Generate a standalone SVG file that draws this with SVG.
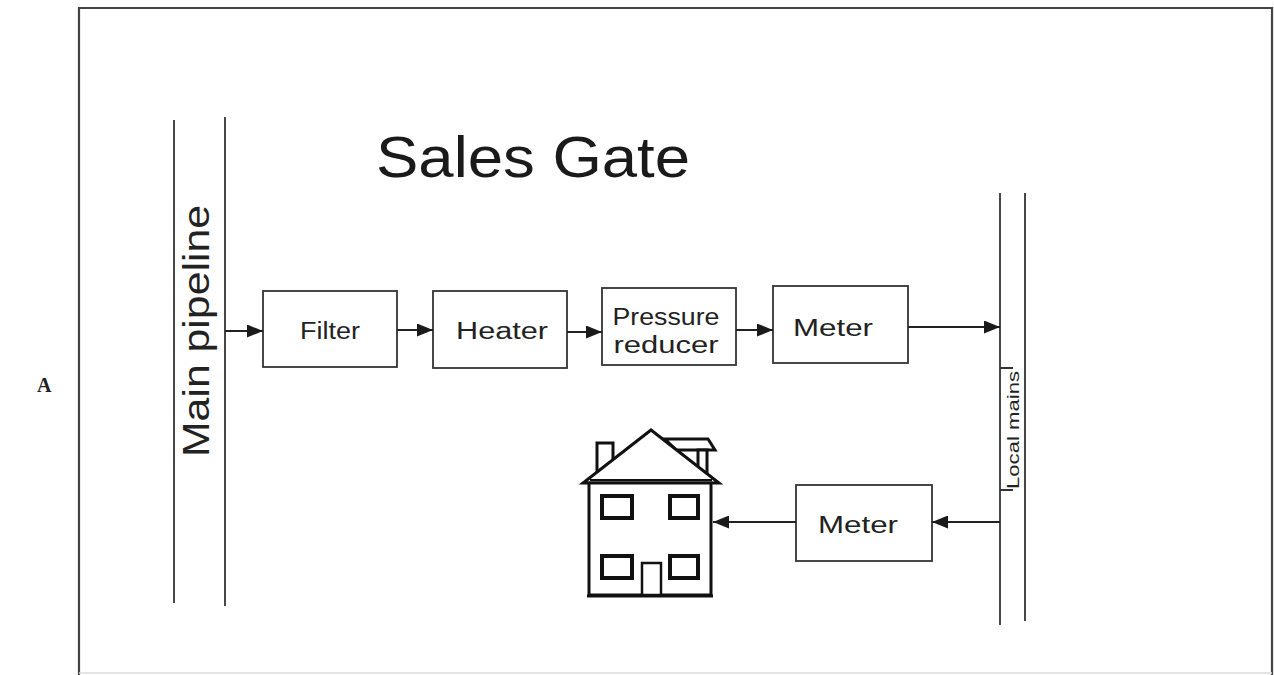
<svg xmlns="http://www.w3.org/2000/svg" width="1274" height="675" viewBox="0 0 1274 675">
  <defs>
    <marker id="arrow" viewBox="0 0 16 13" refX="16" refY="6.5" markerWidth="16" markerHeight="13" markerUnits="userSpaceOnUse" orient="auto">
      <path d="M0,0 L16,6.5 L0,13 Z" fill="#1a1a1a"/>
    </marker>
    <style>
      .frame { fill: none; stroke: #444; stroke-width: 2.2; }
      .pipe { stroke: #333; stroke-width: 1.8; fill: none; }
      .box { fill: #fff; stroke: #333; stroke-width: 1.8; }
      .link { stroke: #222; stroke-width: 1.8; fill: none; marker-end: url(#arrow); }
      .lbl { font-family: "Liberation Sans", Arial, sans-serif; font-size: 23px; fill: #222; text-anchor: middle; }
      .title { font-family: "Liberation Sans", Arial, sans-serif; font-size: 58px; fill: #1a1a1a; }
      .house { fill: #fff; stroke: #111; stroke-width: 3; stroke-linejoin: miter; }
      .win { fill: #fff; stroke: #111; stroke-width: 4; }
    </style>
  </defs>
  <rect width="1274" height="675" fill="#fff"/>

  <!-- outer frame -->
  <path class="frame" d="M79,675 L79,8 L1272,8 L1272,675"/>
  <line x1="79" y1="673" x2="1272" y2="673" stroke="#ddd" stroke-width="1.5"/>

  <text x="37" y="392" font-family="Liberation Serif, serif" font-weight="bold" font-size="20" fill="#222">A</text>

  <text class="title" x="376" y="177" textLength="314" lengthAdjust="spacingAndGlyphs">Sales Gate</text>

  <!-- main pipeline -->
  <g id="main-pipeline">
    <line class="pipe" x1="174" y1="120" x2="174" y2="603"/>
    <line class="pipe" x1="225" y1="117" x2="225" y2="606"/>
    <text transform="translate(209,457) rotate(-90)" font-family="Liberation Sans, Arial, sans-serif" font-size="36" fill="#222" textLength="252" lengthAdjust="spacingAndGlyphs">Main pipeline</text>
  </g>

  <!-- local mains -->
  <g id="local-mains">
    <line class="pipe" x1="1000" y1="193" x2="1000" y2="625"/>
    <line class="pipe" x1="1025" y1="193" x2="1025" y2="621"/>
    <path class="pipe" d="M1000,368 H1013 M1000,490 H1013" stroke-width="1.2"/>
    <text transform="translate(1019,430) rotate(-90)" font-family="Liberation Sans, Arial, sans-serif" font-size="17" fill="#222" text-anchor="middle" textLength="118" lengthAdjust="spacingAndGlyphs">Local mains</text>
  </g>

  <g id="filter">
    <rect class="box" x="263" y="291" width="134" height="76"/>
    <text class="lbl" x="330" y="339" textLength="60" lengthAdjust="spacingAndGlyphs">Filter</text>
  </g>
  <g id="heater">
    <rect class="box" x="433" y="291" width="134" height="77"/>
    <text class="lbl" x="502" y="339" textLength="92" lengthAdjust="spacingAndGlyphs">Heater</text>
  </g>
  <g id="pressure-reducer">
    <rect class="box" x="602" y="288" width="134" height="77"/>
    <text class="lbl" x="666" y="325" textLength="107" lengthAdjust="spacingAndGlyphs">Pressure</text>
    <text class="lbl" x="666" y="353" textLength="105" lengthAdjust="spacingAndGlyphs">reducer</text>
  </g>
  <g id="meter-station">
    <rect class="box" x="773" y="286" width="135" height="77"/>
    <text class="lbl" x="833" y="336" textLength="80" lengthAdjust="spacingAndGlyphs">Meter</text>
  </g>
  <g id="meter-house">
    <rect class="box" x="796" y="485" width="136" height="76"/>
    <text class="lbl" x="858" y="533" textLength="80" lengthAdjust="spacingAndGlyphs">Meter</text>
  </g>

  <!-- house -->
  <g id="house">
    <!-- chimney -->
    <rect class="house" x="597" y="443" width="16" height="30" stroke-width="2.5"/>
    <!-- dormer -->
    <path class="house" d="M665,439 H708 L715,450 H676 Z" stroke-width="2"/>
    <rect class="house" x="698" y="450" width="9" height="24" stroke-width="2.5"/>
    <!-- roof -->
    <path class="house" d="M651,430 L583,483 H719 Z"/>
    <line x1="590" y1="480" x2="712" y2="480" stroke="#111" stroke-width="2"/>
    <!-- body -->
    <rect class="house" x="589" y="483" width="122" height="112"/>
    <line x1="587" y1="596" x2="713" y2="596" stroke="#111" stroke-width="3"/>
    <!-- windows -->
    <rect class="win" x="602" y="496" width="30" height="22"/>
    <rect class="win" x="670" y="496" width="28" height="22"/>
    <rect class="win" x="602" y="556" width="30" height="22"/>
    <rect class="win" x="670" y="556" width="28" height="22"/>
    <!-- door -->
    <rect x="642" y="563" width="19" height="32" fill="#fff" stroke="#111" stroke-width="2.5"/>
  </g>

  <!-- connectors -->
  <g id="connectors">
    <line class="link" x1="225" y1="331" x2="263" y2="331"/>
    <line class="link" x1="397" y1="330" x2="433" y2="330"/>
    <line class="link" x1="567" y1="332" x2="602" y2="332"/>
    <line class="link" x1="736" y1="330" x2="773" y2="330"/>
    <line class="link" x1="908" y1="327" x2="1000" y2="327" stroke-width="1.3"/>
    <line class="link" x1="1000" y1="522" x2="932" y2="522" stroke-width="1.3"/>
    <line class="link" x1="796" y1="522" x2="713" y2="522" stroke-width="1.3"/>
  </g>
</svg>
